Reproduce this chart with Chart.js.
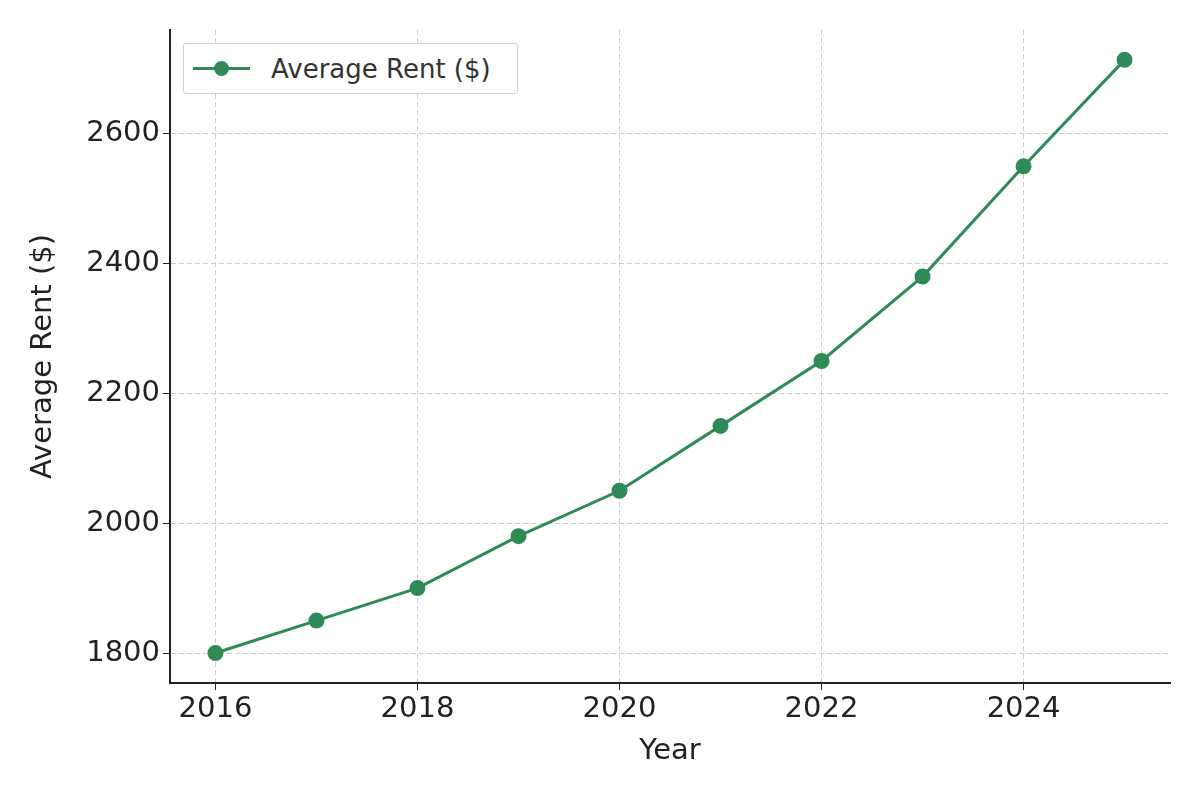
<!DOCTYPE html>
<html>
<head>
<meta charset="utf-8">
<script src="https://cdn.jsdelivr.net/npm/chart.js@4/dist/chart.umd.min.js"></script>
<style>
  body { margin: 0; background: #fff; }
  #wrap { position: relative; width: 1200px; height: 800px; }
  #legend {
    position: absolute; left: 183px; top: 43px; width: 335px; height: 51px;
    border: 1.5px solid #d0d0d0; border-radius: 3px; background: #fff;
    font-family: 'DejaVu Sans', sans-serif; font-size: 26px; color: #333;
    display: flex; align-items: center; box-sizing: border-box;
  }
  #legend .line { position: relative; width: 57px; height: 3px; background: #2e8b57; margin-left: 9px; margin-right: 21px; }
  #legend .line::after { content: ''; position: absolute; left: 21px; top: -6px; width: 15px; height: 15px; border-radius: 50%; background: #2e8b57; }
</style>
</head>
<body>
<div id="wrap">
  <canvas id="chart" width="1200" height="800"></canvas>
  <div id="legend"><span class="line"></span>Average Rent ($)</div>
</div>
<script>
// data
const years = [2016, 2017, 2018, 2019, 2020, 2021, 2022, 2023, 2024, 2025];
const rent = [1800, 1850, 1900, 1980, 2050, 2150, 2250, 2380, 2550, 2714];
const xTicks = [2016, 2018, 2020, 2022, 2024];
const yTicks = [1800, 2000, 2200, 2400, 2600];

const points = years.map((y, i) => ({ x: y, y: rent[i] }));
const green = '#2e8b57';
const font = { family: "'DejaVu Sans', sans-serif", size: 29 };

new Chart(document.getElementById('chart'), {
  type: 'line',
  data: {
    datasets: [{
      label: 'Average Rent ($)',
      data: points,
      borderColor: green,
      backgroundColor: green,
      borderWidth: 3,
      pointRadius: 6.5,
      pointHoverRadius: 6.5,
      tension: 0
    }]
  },
  options: {
    responsive: false,
    devicePixelRatio: 1,
    animation: false,
    layout: { padding: { top: 30, right: 30, left: 22, bottom: 27 } },
    plugins: { legend: { display: false }, tooltip: { enabled: false } },
    scales: {
      x: {
        type: 'linear',
        min: 2015.55, max: 2025.45,
        afterFit: s => { s.height = 90; },
        afterBuildTicks: s => { s.ticks = xTicks.map(v => ({ value: v })); },
        border: { color: '#222', width: 2, dash: [5, 3] },
        grid: { color: '#cccccc', tickColor: '#222', tickLength: 7 },
        ticks: { color: '#222', font: font, padding: 2, maxRotation: 0, callback: v => String(v) },
        title: { display: true, text: 'Year', color: '#222', font: font, padding: { top: 0, bottom: 4 } }
      },
      y: {
        min: 1753.8, max: 2760,
        afterFit: s => { s.width = 148; },
        afterBuildTicks: s => { s.ticks = yTicks.map(v => ({ value: v })); },
        border: { color: '#222', width: 2, dash: [5, 3] },
        grid: { color: '#cccccc', tickColor: '#222', tickLength: 7 },
        ticks: { color: '#222', font: font, padding: 3, callback: v => String(v) },
        title: { display: true, text: 'Average Rent ($)', color: '#222', font: font, padding: { top: 4, bottom: 0 } }
      }
    }
  }
});
</script>
</body>
</html>
